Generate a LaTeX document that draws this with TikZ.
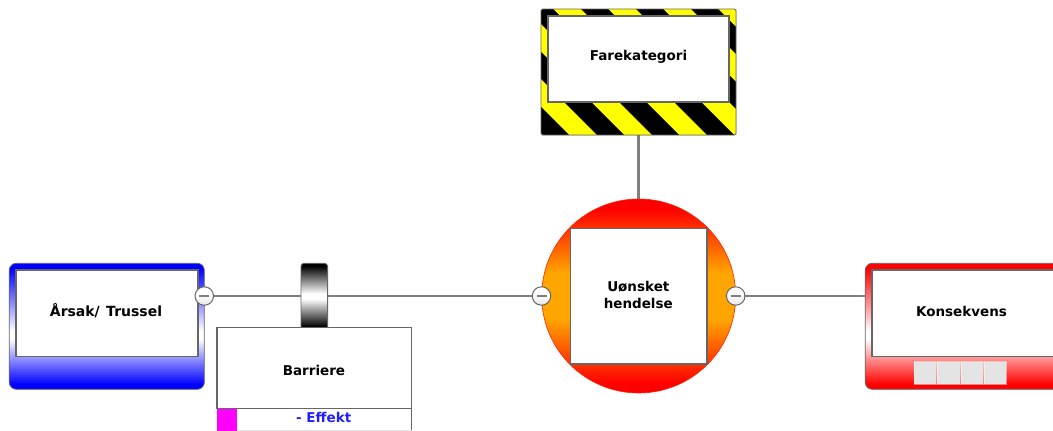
\documentclass[tikz,border=0pt]{standalone}
\usepackage{fontspec}
\setmainfont{DejaVu Sans}
\usetikzlibrary{backgrounds}
\definecolor{linegray}{HTML}{7F7F7F}
\definecolor{edgegray}{HTML}{666666}
\definecolor{cellgray}{HTML}{E4E4E4}
\definecolor{hazyellow}{HTML}{FFFF00}
\definecolor{effblue}{HTML}{2020FF}
\definecolor{orangemid}{HTML}{FFA500}
\definecolor{markpink}{HTML}{FF00FF}
\definecolor{pureblue}{HTML}{0000FF}
\definecolor{purered}{HTML}{FF0000}
\pgfdeclareverticalshading{blueface}{100bp}{color(0bp)=(pureblue); color(27bp)=(pureblue); color(45bp)=(white); color(48bp)=(white); color(73bp)=(pureblue); color(100bp)=(pureblue)}
\pgfdeclareverticalshading{redface}{100bp}{color(0bp)=(purered); color(27bp)=(purered); color(45bp)=(white); color(48bp)=(white); color(73bp)=(purered); color(100bp)=(purered)}
\pgfdeclareverticalshading{eventface}{100bp}{color(0bp)=(purered); color(27.5bp)=(purered); color(44bp)=(orangemid); color(56bp)=(orangemid); color(72.5bp)=(purered); color(100bp)=(purered)}
\pgfdeclareverticalshading{barrelface}{100bp}{color(0bp)=(black); color(27bp)=(black); color(48bp)=(white); color(52bp)=(white); color(73bp)=(black); color(100bp)=(black)}
\pgfdeclareverticalshading{btnface}{100bp}{color(0bp)=(black!10); color(25bp)=(black!10); color(55bp)=(white); color(100bp)=(white)}
\tikzset{
  every node/.style={inner sep=0pt,outer sep=0pt,font=\fontsize{13.5}{16.5}\selectfont\bfseries,align=center},
  link/.style={draw=linegray,line width=2.8pt},
  panel/.style={draw=edgegray,line width=1.4pt,fill=white,anchor=north west},
  outerbox/.style={draw=edgegray,line width=0.8pt,rounded corners=7pt,anchor=north west,minimum width=195pt,minimum height=126pt},
  btn/.style={circle,draw=edgegray,line width=1pt,minimum size=18.5pt,shading=btnface,
    path picture={\draw[linegray,line width=1.5pt] ([xshift=-5pt]path picture bounding box.center) -- ([xshift=5pt]path picture bounding box.center);}},
  cell/.style={fill=cellgray,draw=white,draw opacity=.5,line width=.6pt,anchor=north west,minimum width=22.4pt,minimum height=22.6pt},
  hazstripe/.style={fill=hazyellow,draw=none},
}
\begin{document}
\begin{tikzpicture}[x=1pt,y=-1pt]
\clip (0,0) rectangle (1053,431);
% hazard
\node[anchor=north west,fill=black,rounded corners=1.5pt,minimum width=195pt,minimum height=126pt] (hazard) at (541,9) {};
\begin{scope}
  \clip[rounded corners=1.5pt] (541,9) rectangle (736,135);
  \foreach \k in {-3,...,3}{
    \path[hazstripe] ({544.3+55*\k+9},9) -- ({571.8+55*\k+9},9) -- ({571.8+55*\k+135},135) -- ({544.3+55*\k+135},135) -- cycle;
  }
\end{scope}
\node[draw=edgegray,line width=0.8pt,rounded corners=1.5pt,anchor=north west,minimum width=195pt,minimum height=126pt] (hazardedge) at (541,9) {};
\node[panel,minimum width=181pt,minimum height=86pt] (hazardin) at (548,16) {};
\node (hazardtxt) at (638.5,57) {Farekategori};
% event
\node[circle,minimum size=194pt,shading=eventface,draw=purered!80!orangemid,line width=.6pt] (event) at (638.7,296) {};
\node[panel,minimum width=136.5pt,minimum height=135.7pt] (eventin) at (570.3,228.3) {};
\node at (638.3,295) {Uønsket\\hendelse};
% threat
\node[outerbox,shading=blueface] (threat) at (9.3,263.3) {};
\node[panel,minimum width=182pt,minimum height=86.7pt] (threatin) at (16,270) {};
\node[font=\fontsize{14}{16.5}\selectfont\bfseries] at (106,311) {Årsak/\hspace{1.5pt} Trussel};
% consequence
\node[outerbox,shading=redface] (cons) at (865.3,263.3) {};
\node[panel,minimum width=182pt,minimum height=86.7pt] (consin) at (872,270) {};
\node at (961.5,311) {Konsekvens};
\node[cell] (c1) at (914,361.7) {};
\node[cell] (c2) at (937.4,361.7) {};
\node[cell] (c3) at (960.8,361.7) {};
\node[cell] (c4) at (984,361.7) {};
% barrier
\node[draw=edgegray,line width=0.8pt,rounded corners=3pt,shading=barrelface,anchor=north west,minimum width=26.6pt,minimum height=66pt] (barrel) at (301,263.3) {};
\node[fill=white,draw=black!10,line width=.8pt,anchor=north west,minimum width=194.7pt,minimum height=22pt] (effrow) at (217,408.3) {};
\node[fill=markpink,anchor=north west,minimum width=19.7pt,minimum height=23pt] (effmark) at (217,408.3) {};
\node[panel,minimum width=194.7pt,minimum height=80.6pt] (barrier) at (217,327.7) {};
\draw[edgegray,line width=1.3pt] (effrow.north east) -- (effrow.south east);
\node at (314,370) {Barriere};
\node[text=effblue] at (323.7,417) {- Effekt};
% buttons
\node[btn] (b1) at (204.3,296) {};
\node[btn] (b2) at (541.5,296) {};
\node[btn] (b3) at (735.7,296) {};
% connectors
\begin{scope}[on background layer]
  \draw[link] (hazard.south) -- (hazard.south |- event.north);
  \draw[link] (b1) -- (b1 -| barrel.west);
  \draw[link] (b2 -| barrel.east) -- (b2);
  \draw[link] (b3) -- (b3 -| cons.west);
\end{scope}
\end{tikzpicture}
\end{document}
